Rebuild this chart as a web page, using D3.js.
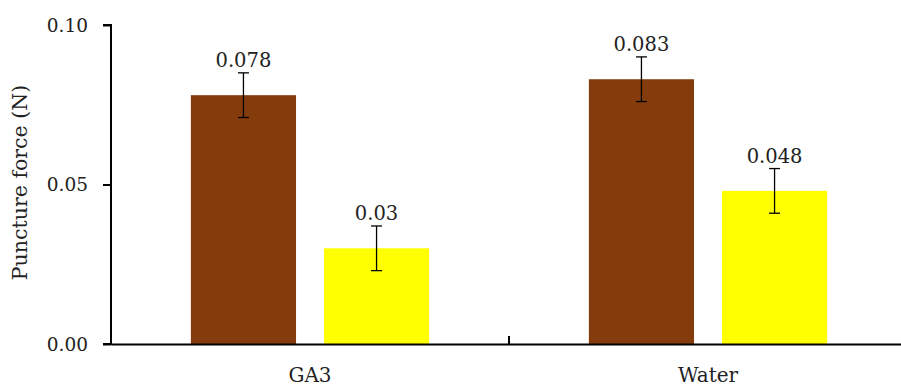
<!DOCTYPE html>
<html>
<head>
<meta charset="utf-8">
<script src="https://cdn.jsdelivr.net/npm/d3@7"></script>
<style>
  body { margin: 0; background: #fff; }
  text { font-family: "DejaVu Serif", "Liberation Serif", serif; fill: #222; }
</style>
</head>
<body>
<div class="chart"></div>
<script>
var categories = ["GA3", "Water"];
var series = ["A", "B"];
var seriesColors = ["#843c0c", "#ffff00"];
var valuesA = [0.078, 0.083];
var valuesB = [0.03, 0.048];
var errorsA = [0.007, 0.007];
var errorsB = [0.007, 0.007];
var labelsA = ["0.078", "0.083"];
var labelsB = ["0.03", "0.048"];
var yTicks = [0, 0.05, 0.10];

var width = 901, height = 389;
var plotLeft = 111, plotRight = 907, plotTop = 25, plotBottom = 344;

var svg = d3.select(".chart").append("svg")
    .attr("width", width)
    .attr("height", height);

var x = d3.scaleBand().domain(categories).range([plotLeft, plotRight]);
var xInner = d3.scaleBand().domain(series).range([0, x.bandwidth()])
    .paddingInner(0.21).paddingOuter(0.6);
var y = d3.scaleLinear().domain([0, 0.10]).range([plotBottom, plotTop]);

var rows = [];
categories.forEach(function (c, i) {
    rows.push({cat: c, s: "A", v: valuesA[i], e: errorsA[i], label: labelsA[i], color: seriesColors[0]});
    rows.push({cat: c, s: "B", v: valuesB[i], e: errorsB[i], label: labelsB[i], color: seriesColors[1]});
});

svg.selectAll("rect.bar")
    .data(rows)
    .enter()
    .append("rect")
    .attr("class", "bar")
    .attr("x", function (d) { return x(d.cat) + xInner(d.s); })
    .attr("width", xInner.bandwidth())
    .attr("y", function (d) { return y(d.v); })
    .attr("height", function (d) { return y(0) - y(d.v); })
    .attr("fill", function (d) { return d.color; });

// error bars
var err = svg.selectAll("g.err")
    .data(rows)
    .enter()
    .append("g")
    .attr("class", "err")
    .attr("stroke", "#000")
    .attr("stroke-width", 1.3);

function cx(d) { return x(d.cat) + xInner(d.s) + xInner.bandwidth() / 2; }

err.append("line")
    .attr("x1", cx).attr("x2", cx)
    .attr("y1", function (d) { return y(d.v + d.e); })
    .attr("y2", function (d) { return y(d.v - d.e); });
err.append("line")
    .attr("x1", function (d) { return cx(d) - 5.5; })
    .attr("x2", function (d) { return cx(d) + 5.5; })
    .attr("y1", function (d) { return y(d.v + d.e); })
    .attr("y2", function (d) { return y(d.v + d.e); });
err.append("line")
    .attr("x1", function (d) { return cx(d) - 5.5; })
    .attr("x2", function (d) { return cx(d) + 5.5; })
    .attr("y1", function (d) { return y(d.v - d.e); })
    .attr("y2", function (d) { return y(d.v - d.e); });

// value labels
svg.selectAll("text.val")
    .data(rows)
    .enter()
    .append("text")
    .attr("class", "val")
    .attr("x", cx)
    .attr("y", function (d) { return y(d.v + d.e) - 6; })
    .attr("text-anchor", "middle")
    .attr("font-size", 19.5)
    .text(function (d) { return d.label; });

// y axis
var yAxis = svg.append("g")
    .attr("transform", "translate(" + plotLeft + ",0)")
    .call(d3.axisLeft(y).tickValues(yTicks).tickFormat(d3.format(".2f")).tickSize(8).tickPadding(15));
yAxis.select(".domain").attr("stroke", "#000").attr("stroke-width", 2)
    .attr("d", "M-8," + plotTop + "H0V" + plotBottom + "H-8");
yAxis.selectAll(".tick line").attr("stroke", "#000").attr("stroke-width", 2);
yAxis.selectAll(".tick text")
    .attr("font-size", 18.5)
    .attr("font-family", "DejaVu Serif, Liberation Serif, serif")
    .attr("fill", "#222")
    .attr("dy", "0.35em");

// x axis
var xAxis = svg.append("g")
    .attr("transform", "translate(0," + plotBottom + ")")
    .call(d3.axisBottom(x).tickSize(0).tickPadding(24));
xAxis.select(".domain").attr("stroke", "#000").attr("stroke-width", 2);
xAxis.selectAll(".tick text")
    .attr("font-size", 20)
    .attr("font-family", "DejaVu Serif, Liberation Serif, serif")
    .attr("fill", "#222");

// separator tick between categories (inside the plot)
svg.append("line")
    .attr("x1", x("Water")).attr("x2", x("Water"))
    .attr("y1", plotBottom).attr("y2", plotBottom - 8)
    .attr("stroke", "#000").attr("stroke-width", 2);

// y title
svg.append("text")
    .attr("transform", "translate(27," + ((plotTop + plotBottom) / 2 - 2) + ") rotate(-90)")
    .attr("text-anchor", "middle")
    .attr("font-size", 20.5)
    .text("Puncture force (N)");
</script>
</body>
</html>
